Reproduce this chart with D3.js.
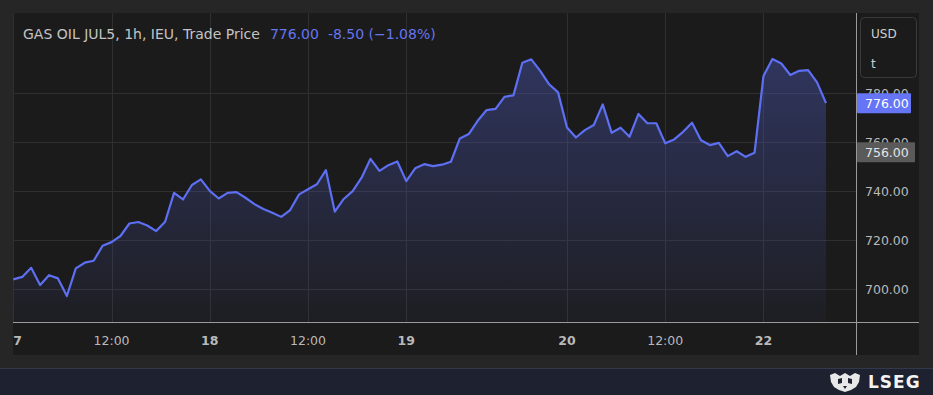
<!DOCTYPE html>
<html>
<head>
<meta charset="utf-8">
<script src="https://cdn.jsdelivr.net/npm/d3@7"></script>
<style>
  html, body { margin: 0; padding: 0; background: #262626; }
  svg { display: block; font-family: "DejaVu Sans", "Noto Sans", sans-serif; }
</style>
</head>
<body>
<svg id="chart"></svg>
<script>
const containerWidth = 933;
const containerHeight = 395;

// hourly closes, one per bar
const prices = [
  704.1, 705.1, 708.8, 701.8, 705.8, 704.5, 697.3, 708.6, 710.9, 711.7,
  717.8, 719.3, 721.8, 726.9, 727.5, 726.1, 723.8, 727.6, 739.4, 736.7,
  742.6, 744.9, 740.2, 737.1, 739.4, 739.7, 737.4, 734.8, 732.8, 731.3,
  729.6, 732.4, 738.8, 740.9, 742.9, 748.7, 731.7, 736.9, 740.1, 745.6,
  753.3, 748.4, 750.7, 752.2, 744.2, 749.4, 751.1, 750.3, 750.9, 752.1,
  761.6, 763.4, 768.8, 773.2, 773.7, 778.6, 779.2, 792.5, 793.9, 789.2,
  783.7, 780.4, 766.1, 762.0, 765.0, 767.1, 775.5, 763.9, 766.0, 762.3,
  771.6, 767.8, 767.8, 759.6, 761.2, 764.3, 768.0, 760.9, 758.9, 759.8,
  754.4, 756.4, 754.1, 755.8, 787.1, 794.0, 792.2, 787.5, 789.2, 789.5,
  784.5, 776.0
];

const xTickIndex = [0, 11, 22, 33, 44, 62, 73, 84];
const xTickLabels = ["17", "12:00", "18", "12:00", "19", "20", "12:00", "22"];
const xTickIsDay = [true, false, true, false, true, true, false, true];

const yTicks = [700, 720, 740, 760, 780];

const titleText = "GAS OIL JUL5, 1h, IEU, Trade Price";
const lastText = "776.00";
const changeText = "-8.50 (\u22121.08%)";
const lastPrice = 776.00;
const markPrice = 756.00;

const panel = {left: 13, top: 13, right: 919, bottom: 355};
const plot = {left: 13, top: 13, right: 856, bottom: 322};

const svg = d3.select("#chart")
  .attr("width", containerWidth)
  .attr("height", containerHeight);

svg.append("rect")
  .attr("width", containerWidth).attr("height", containerHeight)
  .attr("fill", "#262626");

svg.append("rect")
  .attr("x", panel.left).attr("y", panel.top)
  .attr("width", panel.right - panel.left).attr("height", panel.bottom - panel.top)
  .attr("fill", "#1b1b1b");

// bottom branding strip
svg.append("rect")
  .attr("x", 0).attr("y", 368)
  .attr("width", containerWidth).attr("height", containerHeight - 368)
  .attr("fill", "#1d2130");
svg.append("line")
  .attr("x1", 0).attr("x2", containerWidth).attr("y1", 368.5).attr("y2", 368.5)
  .attr("stroke", "#33384a");

const xScale = d3.scaleLinear()
  .domain([0, prices.length - 1])
  .range([13.3, 826]);

const yScale = d3.scaleLinear()
  .domain([686.7, 812.8])
  .range([plot.bottom, plot.top]);

svg.append("clipPath").attr("id", "plotclip")
  .append("rect")
  .attr("x", plot.left).attr("y", plot.top)
  .attr("width", plot.right - plot.left).attr("height", plot.bottom - plot.top);

// grid
const grid = svg.append("g").attr("clip-path", "url(#plotclip)");
grid.selectAll(".hgrid")
  .data(yTicks)
  .join("line")
  .attr("x1", plot.left).attr("x2", plot.right)
  .attr("y1", d => Math.round(yScale(d)) + 0.5)
  .attr("y2", d => Math.round(yScale(d)) + 0.5)
  .attr("stroke", "#2f2f2f");
grid.selectAll(".vgrid")
  .data(xTickIndex)
  .join("line")
  .attr("y1", plot.top).attr("y2", plot.bottom)
  .attr("x1", d => Math.round(xScale(d)) + 0.5)
  .attr("x2", d => Math.round(xScale(d)) + 0.5)
  .attr("stroke", "#2f2f2f");

// area + line
const defs = svg.append("defs");
const grad = defs.append("linearGradient")
  .attr("id", "areafill")
  .attr("x1", 0).attr("x2", 0).attr("y1", 0).attr("y2", 1);
grad.append("stop").attr("offset", "0%").attr("stop-color", "#4a55b0").attr("stop-opacity", 0.45);
grad.append("stop").attr("offset", "100%").attr("stop-color", "#4a55b0").attr("stop-opacity", 0.05);

const plotG = svg.append("g").attr("clip-path", "url(#plotclip)");

plotG.append("path")
  .datum(prices)
  .attr("fill", "url(#areafill)")
  .attr("d", d3.area()
    .x((d, i) => xScale(i))
    .y0(plot.bottom)
    .y1(d => yScale(d)));

plotG.append("path")
  .datum(prices)
  .attr("fill", "none")
  .attr("stroke", "#5d6ff2")
  .attr("stroke-width", 2.2)
  .attr("stroke-linejoin", "round")
  .attr("d", d3.line()
    .x((d, i) => xScale(i))
    .y(d => yScale(d)));

// axis lines
svg.append("line")
  .attr("x1", plot.left).attr("x2", panel.right)
  .attr("y1", plot.bottom + 0.5).attr("y2", plot.bottom + 0.5)
  .attr("stroke", "#9a9a9a");
svg.append("line")
  .attr("x1", plot.right + 0.5).attr("x2", plot.right + 0.5)
  .attr("y1", panel.top).attr("y2", panel.bottom)
  .attr("stroke", "#9a9a9a");

// x labels
svg.append("clipPath").attr("id", "xlabclip")
  .append("rect")
  .attr("x", panel.left).attr("y", plot.bottom)
  .attr("width", plot.right - panel.left).attr("height", panel.bottom - plot.bottom);
svg.append("g")
  .attr("clip-path", "url(#xlabclip)")
  .selectAll("text")
  .data(xTickIndex)
  .join("text")
  .attr("x", d => xScale(d))
  .attr("y", 344.5)
  .attr("text-anchor", "middle")
  .attr("font-size", 12.5)
  .attr("font-weight", (d, i) => xTickIsDay[i] ? 700 : 400)
  .attr("fill", "#b9b9b9")
  .text((d, i) => xTickLabels[i]);

// y labels
svg.append("g")
  .selectAll("text")
  .data(yTicks)
  .join("text")
  .attr("x", 865)
  .attr("y", d => yScale(d) + 4.5)
  .attr("font-size", 12.5)
  .attr("fill", "#b9b9b9")
  .text(d => d.toFixed(2));

// currency box
svg.append("rect")
  .attr("x", 860.5).attr("y", 17.5)
  .attr("width", 56).attr("height", 60)
  .attr("rx", 4)
  .attr("fill", "#1b1b1b")
  .attr("stroke", "#3a3a3a");
svg.append("text").attr("x", 871).attr("y", 38)
  .attr("font-size", 12).attr("fill", "#d0d0d0").text("USD");
svg.append("text").attr("x", 871).attr("y", 68)
  .attr("font-size", 12).attr("fill", "#d0d0d0").text("t");

// price tags
const tags = [
  {v: markPrice, w: 58, bg: "#5a5a5a", fg: "#e4e4e4"},
  {v: lastPrice, w: 54, bg: "#6675f5", fg: "#ffffff"}
];
tags.forEach(t => {
  const cy = yScale(t.v);
  svg.append("rect")
    .attr("x", plot.right + 1).attr("y", cy - 10)
    .attr("width", t.w).attr("height", 20)
    .attr("rx", 1)
    .attr("fill", t.bg);
  svg.append("text")
    .attr("x", 865).attr("y", cy + 4.5)
    .attr("font-size", 12.5)
    .attr("fill", t.fg)
    .text(t.v.toFixed(2));
});

// title
const title = svg.append("text")
  .attr("x", 23).attr("y", 38.5)
  .attr("font-size", 14);
title.append("tspan").attr("fill", "#c4c4c4").text(titleText);
title.append("tspan").attr("fill", "#6675f0").attr("dx", 10).text(lastText);
title.append("tspan").attr("fill", "#6675f0").attr("dx", 9).text(changeText);

// LSEG branding
const logo = svg.append("g").attr("transform", "translate(829,372)");
logo.append("path")
  .attr("d", "M1,3 L6,1 L11,4 L16,1 L21,4 L26,1 L31,3 L30,10 L27,15 L22,18 L16,20 L10,18 L5,15 L2,10 Z")
  .attr("fill", "#e8e8e8");
logo.append("path")
  .attr("d", "M9,7 L13,6 L13,11 L9,12 Z M19,6 L23,7 L23,12 L19,11 Z M14,14 L18,14 L16,17 Z")
  .attr("fill", "#1d2130");
svg.append("text")
  .attr("x", 868).attr("y", 388)
  .attr("font-size", 17)
  .attr("font-weight", 700)
  .attr("letter-spacing", 1)
  .attr("fill", "#f2f2f2")
  .text("LSEG");
</script>
</body>
</html>
